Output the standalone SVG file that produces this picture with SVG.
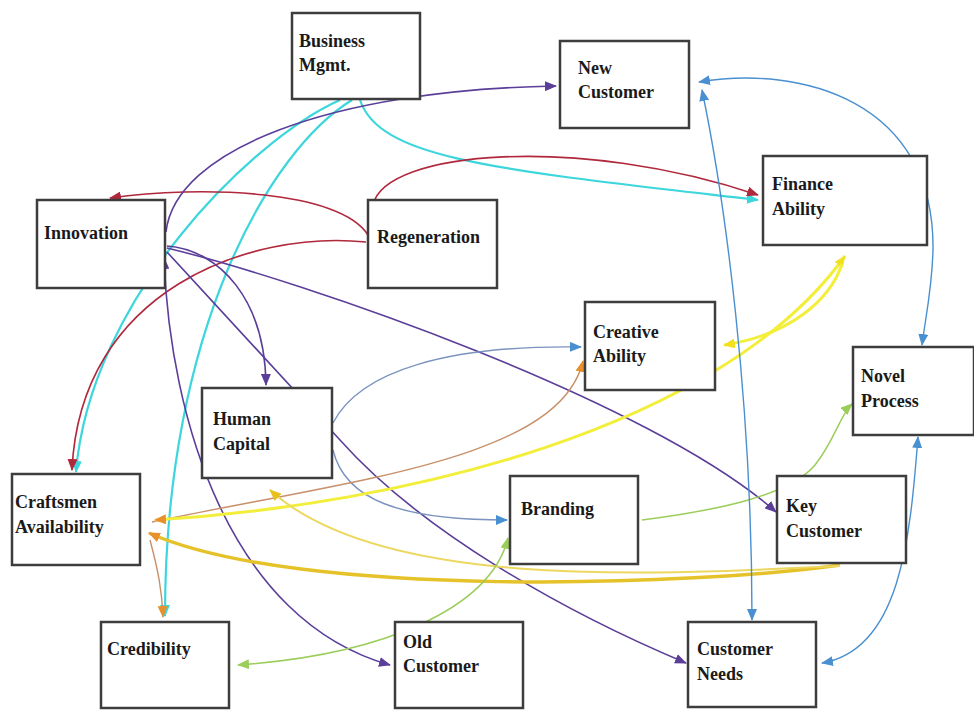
<svg xmlns="http://www.w3.org/2000/svg" width="974" height="711" viewBox="0 0 974 711">
<style>
.box{fill:#fff;stroke:#3d3d3d;stroke-width:2.5}
.lbl{font-family:"Liberation Serif","Times New Roman",serif;font-weight:bold;font-size:18px;fill:#1a1a1a}
.e{fill:none;stroke-width:1.6}
.pu{stroke:#5a3e99}
.cy{stroke:#3cd6dc;stroke-width:2.2}
.rd{stroke:#b0283c}
.bl{stroke:#4a90d0;stroke-width:1.4}
.bg{stroke:#7a93bf;stroke-width:1.4}
.ye{stroke:#f2ee3a;stroke-width:3}
.go{stroke:#e6c22a;stroke-width:3.5}
.yl{stroke:#ecd860;stroke-width:2}
.or{stroke:#c8906a;stroke-width:1.4}
.gr{stroke:#9acd5a;stroke-width:1.5}
</style>
<defs>
<marker id="mPu" markerWidth="12" markerHeight="10" refX="11" refY="5" orient="auto-start-reverse" markerUnits="userSpaceOnUse"><path d="M0,0 L12,5 L0,10 z" fill="#5a3e99"/></marker>
<marker id="mCy" markerWidth="12" markerHeight="10" refX="11" refY="5" orient="auto-start-reverse" markerUnits="userSpaceOnUse"><path d="M0,0 L12,5 L0,10 z" fill="#3cd6dc"/></marker>
<marker id="mRd" markerWidth="12" markerHeight="10" refX="11" refY="5" orient="auto-start-reverse" markerUnits="userSpaceOnUse"><path d="M0,0 L12,5 L0,10 z" fill="#b0283c"/></marker>
<marker id="mBl" markerWidth="12" markerHeight="10" refX="11" refY="5" orient="auto-start-reverse" markerUnits="userSpaceOnUse"><path d="M0,0 L12,5 L0,10 z" fill="#4a90d0"/></marker>
<marker id="mYe" markerWidth="12" markerHeight="10" refX="11" refY="5" orient="auto-start-reverse" markerUnits="userSpaceOnUse"><path d="M0,0 L12,5 L0,10 z" fill="#f0e020"/></marker>
<marker id="mGo" markerWidth="12" markerHeight="10" refX="11" refY="5" orient="auto-start-reverse" markerUnits="userSpaceOnUse"><path d="M0,0 L12,5 L0,10 z" fill="#e8c020"/></marker>
<marker id="mOr" markerWidth="12" markerHeight="10" refX="11" refY="5" orient="auto-start-reverse" markerUnits="userSpaceOnUse"><path d="M0,0 L12,5 L0,10 z" fill="#e8902c"/></marker>
<marker id="mGr" markerWidth="12" markerHeight="10" refX="11" refY="5" orient="auto-start-reverse" markerUnits="userSpaceOnUse"><path d="M0,0 L12,5 L0,10 z" fill="#9acd5a"/></marker>
</defs>
<g id="connectors">
<path class="e cy" d="M340,100 C250,140 90,300 76,472" marker-end="url(#mCy)"/>
<path class="e cy" d="M352,100 C270,150 165,330 165,616" marker-end="url(#mCy)"/>
<path class="e cy" d="M360,100 C380,160 500,170 758,200" marker-end="url(#mCy)"/>
<path class="e rd" d="M368,235 C340,190 200,185 110,198" marker-end="url(#mRd)"/>
<path class="e rd" d="M373,205 C385,150 580,135 758,195" marker-end="url(#mRd)"/>
<path class="e rd" d="M366,242 C250,230 80,290 72,470" marker-end="url(#mRd)"/>
<path class="e pu" d="M166,232 C175,150 330,90 556,86" marker-end="url(#mPu)"/>
<path class="e pu" d="M167,246 C220,250 265,300 266,385" marker-end="url(#mPu)"/>
<path class="e pu" d="M167,248 C300,280 650,400 776,512" marker-end="url(#mPu)"/>
<path class="e pu" d="M167,252 L340,440 C420,530 560,610 686,663" marker-end="url(#mPu)"/>
<path class="e pu" d="M164,258 C170,420 230,620 390,665" marker-start="url(#mPu)" marker-end="url(#mPu)"/>
<path class="e bg" d="M333,423 C360,370 450,345 581,347" marker-end="url(#mBl)"/>
<path class="e bg" d="M333,450 C345,500 400,520 507,520" marker-end="url(#mBl)"/>
<path class="e or" d="M152,522 C350,480 560,460 583,361" marker-end="url(#mOr)"/>
<path class="e or" d="M150,540 C158,570 162,590 163,617" marker-end="url(#mOr)"/>
<path class="e ye" d="M155,520 C400,505 720,430 845,256" marker-start="url(#mOr)" marker-end="url(#mYe)"/>
<path class="e ye" d="M842,264 C830,300 790,335 724,345" marker-end="url(#mYe)"/>
<path class="e go" d="M840,565 C700,585 300,600 149,533" marker-end="url(#mOr)"/>
<path class="e yl" d="M840,566 C650,575 380,590 270,490" marker-end="url(#mGo)"/>
<path class="e gr" d="M508,538 C490,610 380,655 238,665" marker-start="url(#mGr)" marker-end="url(#mGr)"/>
<path class="e gr" d="M642,520 C720,510 790,495 815,465 C835,440 840,415 852,404" marker-end="url(#mGr)"/>
<path class="e bl" d="M702,90 C725,200 752,400 752,620" marker-start="url(#mBl)" marker-end="url(#mBl)"/>
<path class="e bl" d="M699,82 C800,65 935,100 933,250 C932,290 925,320 922,345" marker-start="url(#mBl)" marker-end="url(#mBl)"/>
<path class="e bl" d="M918,437 C910,540 900,650 822,663" marker-start="url(#mBl)" marker-end="url(#mBl)"/>
</g>
<g id="business-mgmt"><rect class="box" x="292" y="13" width="128" height="86"/><text class="lbl" x="299" y="47">Business</text><text class="lbl" x="299" y="71">Mgmt.</text></g>
<g id="new-customer"><rect class="box" x="560" y="41" width="129" height="87"/><text class="lbl" x="578" y="74">New</text><text class="lbl" x="578" y="98">Customer</text></g>
<g id="finance-ability"><rect class="box" x="763" y="156" width="164" height="89"/><text class="lbl" x="772" y="190">Finance</text><text class="lbl" x="772" y="215">Ability</text></g>
<g id="innovation"><rect class="box" x="37" y="200" width="128" height="88"/><text class="lbl" x="44" y="239">Innovation</text></g>
<g id="regeneration"><rect class="box" x="368" y="200" width="129" height="88"/><text class="lbl" x="377" y="243">Regeneration</text></g>
<g id="creative-ability"><rect class="box" x="585" y="302" width="130" height="88"/><text class="lbl" x="593" y="338">Creative</text><text class="lbl" x="593" y="362">Ability</text></g>
<g id="novel-process"><rect class="box" x="853" y="347" width="121" height="88"/><text class="lbl" x="861" y="382">Novel</text><text class="lbl" x="861" y="407">Process</text></g>
<g id="human-capital"><rect class="box" x="202" y="388" width="130" height="90"/><text class="lbl" x="213" y="425">Human</text><text class="lbl" x="213" y="450">Capital</text></g>
<g id="craftsmen-availability"><rect class="box" x="12" y="474" width="128" height="91"/><text class="lbl" x="15" y="508">Craftsmen</text><text class="lbl" x="15" y="533">Availability</text></g>
<g id="branding"><rect class="box" x="510" y="476" width="128" height="88"/><text class="lbl" x="521" y="515">Branding</text></g>
<g id="key-customer"><rect class="box" x="777" y="476" width="129" height="87"/><text class="lbl" x="786" y="512">Key</text><text class="lbl" x="786" y="537">Customer</text></g>
<g id="credibility"><rect class="box" x="101" y="622" width="128" height="86"/><text class="lbl" x="107" y="655">Credibility</text></g>
<g id="old-customer"><rect class="box" x="395" y="622" width="128" height="86"/><text class="lbl" x="403" y="648">Old</text><text class="lbl" x="403" y="672">Customer</text></g>
<g id="customer-needs"><rect class="box" x="688" y="622" width="128" height="85"/><text class="lbl" x="697" y="655">Customer</text><text class="lbl" x="697" y="680">Needs</text></g>
</svg>
